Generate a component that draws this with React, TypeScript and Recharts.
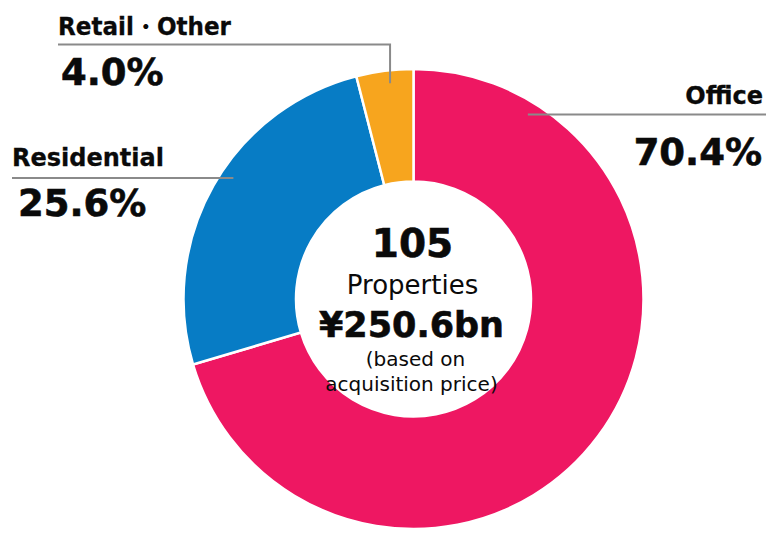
import React from "react";
import { PieChart, Pie, Cell } from "recharts";

const categories = ["Office", "Residential", "Retail・Other"];
const shares = [70.4, 25.6, 4.0];
const shareLabels = ["70.4%", "25.6%", "4.0%"];
const colors = ["#EE1762", "#077CC5", "#F7A51E"];
const centerLines = ["105", "Properties", "¥250.6bn", "(based on", "acquisition price)"];

const data = categories.map((name, i) => ({ name, value: shares[i] }));

const W = 771;
const H = 534;
const CX = 413.5;
const CY = 299;
const INNER = 117.5;
const OUTER = 230;
const FONT = "'DejaVu Sans', Verdana, sans-serif";
const LINE = "#8a8a8a";
const INK = "#0a0a0a";

// label layout (anchor angle in degrees, measured counter-clockwise from 3 o'clock)
const layouts = [
  { angle: 58.2, kind: "right", endX: 766, nameX: 763, valueX: 762 },
  { angle: 146.1, kind: "left", endX: 12, nameX: 12, valueX: 18 },
  { angle: 96.2, kind: "up", topY: 44.5, endX: 58, nameX: 58, valueX: 61, nameLen: 173 },
];

const nameStyle = { fontFamily: FONT, fontWeight: 700, fontSize: 24, fill: INK, stroke: INK, strokeWidth: 0.3 };
const valStyle = { fontFamily: FONT, fontWeight: 700, fontSize: 37, fill: INK, stroke: INK, strokeWidth: 0.6 };

const renderLabel = (props: any) => {
  const { cx, cy, outerRadius, index } = props;
  const lay = layouts[index];
  const r = outerRadius - 13;
  const rad = (lay.angle * Math.PI) / 180;
  const px = cx + r * Math.cos(rad);
  const py = cy - r * Math.sin(rad);
  if (lay.kind === "right") {
    return (
      <g key={`l${index}`}>
        <line x1={px} y1={py} x2={lay.endX} y2={py} stroke={LINE} strokeWidth={2} />
        <text x={lay.nameX} y={py - 11} textAnchor="end" style={nameStyle}>{categories[index]}</text>
        <text x={lay.valueX} y={py + 50} textAnchor="end" style={valStyle}>{shareLabels[index]}</text>
      </g>
    );
  }
  if (lay.kind === "left") {
    return (
      <g key={`l${index}`}>
        <line x1={px} y1={py} x2={lay.endX} y2={py} stroke={LINE} strokeWidth={2} />
        <text x={lay.nameX} y={py - 12} textAnchor="start" style={nameStyle}>{categories[index]}</text>
        <text x={lay.valueX} y={py + 38} textAnchor="start" style={valStyle}>{shareLabels[index]}</text>
      </g>
    );
  }
  const ty = lay.topY as number;
  return (
    <g key={`l${index}`}>
      <polyline points={`${px},${py} ${px},${ty} ${lay.endX},${ty}`} fill="none" stroke={LINE} strokeWidth={2} />
      <text x={lay.nameX} y={ty - 9.5} textAnchor="start" textLength={lay.nameLen} lengthAdjust="spacingAndGlyphs" style={nameStyle}>{categories[index]}</text>
      <text x={lay.valueX} y={ty + 40} textAnchor="start" style={valStyle}>{shareLabels[index]}</text>
    </g>
  );
};

export default function App() {
  return (
    <div style={{ position: "absolute", left: 0, top: 0, width: W, height: H, background: "#fff" }}>
      <PieChart width={W} height={H} margin={{ top: 0, right: 0, bottom: 0, left: 0 }}>
        <Pie
          data={data}
          dataKey="value"
          nameKey="name"
          cx={CX}
          cy={CY}
          innerRadius={INNER}
          outerRadius={OUTER}
          startAngle={90}
          endAngle={-270}
          stroke="#ffffff"
          strokeWidth={2.5}
          isAnimationActive={false}
          label={renderLabel}
          labelLine={false}
        >
          {data.map((d, i) => (
            <Cell key={d.name} fill={colors[i]} />
          ))}
        </Pie>
      </PieChart>
      <svg
        width={W}
        height={H}
        style={{ position: "absolute", left: 0, top: 0, pointerEvents: "none" }}
      >
        <text x={CX - 1} y={257} textAnchor="middle" style={{ fontFamily: FONT, fontWeight: 700, fontSize: 39, fill: INK, stroke: INK, strokeWidth: 0.6 }}>{centerLines[0]}</text>
        <text x={CX - 1} y={294} textAnchor="middle" style={{ fontFamily: FONT, fontWeight: 400, fontSize: 26, fill: INK }}>{centerLines[1]}</text>
        <text x={CX - 2} y={337} textAnchor="middle" style={{ fontFamily: FONT, fontWeight: 700, fontSize: 35, fill: INK, stroke: INK, strokeWidth: 0.6 }}>{centerLines[2]}</text>
        <text x={CX + 2} y={366} textAnchor="middle" style={{ fontFamily: FONT, fontWeight: 400, fontSize: 20, fill: INK }}>{centerLines[3]}</text>
        <text x={CX - 2} y={391} textAnchor="middle" style={{ fontFamily: FONT, fontWeight: 400, fontSize: 20, fill: INK }}>{centerLines[4]}</text>
      </svg>
    </div>
  );
}
